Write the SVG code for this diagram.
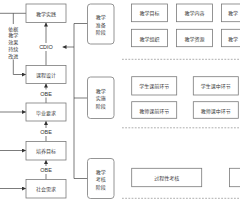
<svg xmlns="http://www.w3.org/2000/svg" width="240" height="200" viewBox="0 0 240 200">
<defs>
<marker id="ah" viewBox="0 0 6 6" refX="6" refY="3" markerWidth="4" markerHeight="4" orient="auto" markerUnits="userSpaceOnUse">
<path d="M0,0 L6,3 L0,6 z" fill="#333"/>
</marker>
<style>
.box{fill:#fff;stroke:#7a7a7a;stroke-width:0.8}
.stage{fill:#fff;stroke:#7a7a7a;stroke-width:0.8}
.t{font-family:"Noto Sans CJK SC","Noto Sans",sans-serif;font-size:5px;fill:#3a3a3a;text-anchor:middle;dominant-baseline:central}
.ts{font-family:"Noto Sans CJK SC","Noto Sans",sans-serif;font-size:5px;fill:#3a3a3a;text-anchor:start;dominant-baseline:central}
.lbl{font-family:"Liberation Sans","Noto Sans",sans-serif;font-size:5.5px;fill:#333;text-anchor:middle;dominant-baseline:central}
.ln{fill:none;stroke:#444;stroke-width:0.7}
.dash{fill:none;stroke:#777;stroke-width:0.6;stroke-dasharray:1.8 1.4}
</style>
</defs>
<rect width="240" height="200" fill="#fff"/>

<g id="connectors">
<path class="ln" d="M-1,13.3 H26"/>
<path class="ln" d="M13.3,13.3 V24"/>
<path class="ln" d="M13.3,59.5 V74.5 H26" marker-end="url(#ah)"/>
<path class="ln" d="M-1,112 H26" marker-end="url(#ah)"/>
<path class="ln" d="M-1,150.5 H26" marker-end="url(#ah)"/>
<path class="ln" d="M-1,188.5 H26" marker-end="url(#ah)"/>
<path class="ln" d="M46,65.5 V22.5" marker-end="url(#ah)"/>
<path class="ln" d="M46,103 V83.5" marker-end="url(#ah)"/>
<path class="ln" d="M46,141.5 V121" marker-end="url(#ah)"/>
<path class="ln" d="M46,179.5 V160" marker-end="url(#ah)"/>
<path class="ln" d="M87.5,23.5 H74 V178.5 H87.5"/>
<path class="ln" d="M74,98 H87.5"/>
<path class="ln" d="M74,47 H62.5" marker-end="url(#ah)"/>
<rect x="38" y="43" width="16" height="8" fill="#fff"/>
<text class="lbl" x="46" y="47.2">CDIO</text>
<rect x="39" y="89.5" width="14" height="8" fill="#fff"/>
<text class="lbl" x="46" y="93.5">OBE</text>
<rect x="39" y="128" width="14" height="8" fill="#fff"/>
<text class="lbl" x="46" y="132">OBE</text>
<rect x="39" y="166" width="14" height="8" fill="#fff"/>
<text class="lbl" x="46" y="170">OBE</text>
<text class="t" x="13.3" y="28">依据</text>
<text class="t" x="13.3" y="34.8">教学</text>
<text class="t" x="13.3" y="41.6">效果</text>
<text class="t" x="13.3" y="48.4">持续</text>
<text class="t" x="13.3" y="55.2">改进</text>
</g>

<g id="n-jxsj"><rect class="box" x="26" y="4" width="40" height="18.5"/><text class="t" x="46" y="13.3">教学实践</text></g>
<g id="n-kcsj"><rect class="box" x="26" y="65.5" width="40" height="18"/><text class="t" x="46" y="74.5">课程设计</text></g>
<g id="n-byyq"><rect class="box" x="26" y="103" width="40" height="18"/><text class="t" x="46" y="112">毕业要求</text></g>
<g id="n-pymb"><rect class="box" x="26" y="141.5" width="40" height="18.5"/><text class="t" x="46" y="150.7">培养目标</text></g>
<g id="n-shxq"><rect class="box" x="26" y="179.5" width="40" height="18.5"/><text class="t" x="46" y="188.7">社会需求</text></g>

<g id="n-stage1"><rect class="stage" x="87.5" y="4" width="26.5" height="40" rx="3"/>
<text class="t" x="100.7" y="16.8">教学</text><text class="t" x="100.7" y="24.3">准备</text><text class="t" x="100.7" y="31.8">阶段</text></g>
<g id="n-stage2"><rect class="stage" x="87.5" y="77" width="26.5" height="41.5" rx="3"/>
<text class="t" x="100.7" y="90.3">教学</text><text class="t" x="100.7" y="97.8">实施</text><text class="t" x="100.7" y="105.3">阶段</text></g>
<g id="n-stage3"><rect class="stage" x="87.5" y="158.5" width="26.5" height="40" rx="3"/>
<text class="t" x="100.7" y="171">教学</text><text class="t" x="100.7" y="178.5">考核</text><text class="t" x="100.7" y="186">阶段</text></g>

<g id="n-jxmb"><rect class="box" x="131.5" y="4" width="36" height="17.7"/><text class="t" x="149.5" y="12.9">教学目标</text></g>
<g id="n-jxnr"><rect class="box" x="176.5" y="4" width="36" height="17.7"/><text class="t" x="194.5" y="12.9">教学内容</text></g>
<g id="n-jx3"><rect class="box" x="221.5" y="4" width="36" height="17.7"/><text class="ts" x="228" y="12.9">教学</text></g>
<g id="n-jxzz"><rect class="box" x="131.5" y="29.3" width="36" height="17.4"/><text class="t" x="149.5" y="38">教学组织</text></g>
<g id="n-jxzy"><rect class="box" x="176.5" y="29.3" width="36" height="17.4"/><text class="t" x="194.5" y="38">教学资源</text></g>
<g id="n-jx6"><rect class="box" x="221.5" y="29.3" width="36" height="17.4"/><text class="ts" x="228" y="38">教学</text></g>

<g id="n-xskq"><rect class="box" x="131.7" y="76.7" width="45" height="18.3"/><text class="t" x="154.2" y="85.9">学生课前环节</text></g>
<g id="n-xskz"><rect class="box" x="193.3" y="76.7" width="45" height="18.3"/><text class="t" x="215.8" y="85.9">学生课中环节</text></g>
<g id="n-jskq"><rect class="box" x="131.7" y="101.7" width="45" height="16.6"/><text class="t" x="154.2" y="110">教师课前环节</text></g>
<g id="n-jskz"><rect class="box" x="193.3" y="101.7" width="45" height="16.6"/><text class="t" x="215.8" y="110">教师课中环节</text></g>

<g id="n-gcxkh"><rect class="box" x="131.7" y="168.3" width="70" height="18.4"/><text class="t" x="166.7" y="177.5">过程性考核</text></g>
<g id="n-zjxkh"><rect class="box" x="229.5" y="168.3" width="70" height="18.4"/></g>

<g id="dividers">
<path class="dash" d="M122,59.3 H241"/>
<path class="dash" d="M122,127.8 H241"/>
<path class="dash" d="M122,198.3 H241"/>
</g>
</svg>
